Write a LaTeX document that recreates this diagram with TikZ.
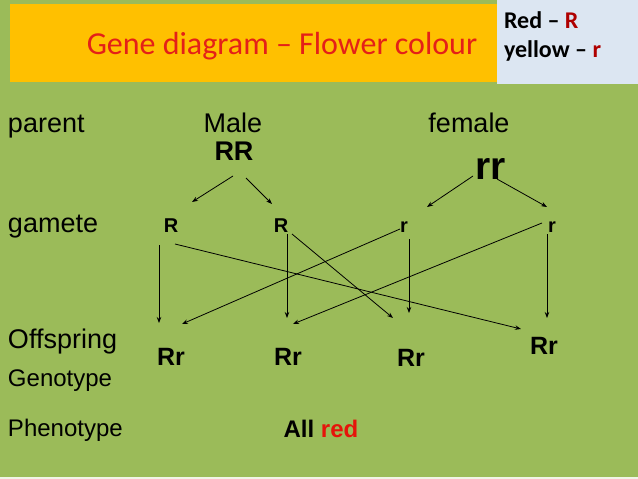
\documentclass[tikz,border=0pt]{standalone}
\usepackage{fontspec}
\setmainfont{Liberation Sans}
\newfontfamily\calfont{Carlito}
\usetikzlibrary{arrows.meta}
\definecolor{bg}{RGB}{155,187,89}
\definecolor{orng}{RGB}{255,192,0}
\definecolor{keybg}{RGB}{220,230,242}
\definecolor{ttl}{RGB}{228,32,24}
\definecolor{dred}{RGB}{175,0,0}
\definecolor{lred}{RGB}{230,20,10}
\begin{document}
\begin{tikzpicture}[x=1pt,y=-1pt,
  every node/.style={inner sep=0pt,outer sep=0pt},
  lbl/.style={anchor=base west,font=\fontsize{27}{27}\selectfont},
  sublbl/.style={anchor=base west,font=\fontsize{24}{24}\selectfont},
  head/.style={anchor=base,font=\fontsize{27}{27}\selectfont},
  gam/.style={anchor=base,font=\fontsize{20}{20}\selectfont\bfseries},
  off/.style={anchor=base,font=\fontsize{25}{25}\selectfont\bfseries},
  keytxt/.style={anchor=base west,font=\calfont\fontsize{24}{24}\selectfont\bfseries},
  arr/.style={-{Stealth[length=6pt,width=4.5pt]},line width=0.8pt,black}
]
\useasboundingbox (0,0) rectangle (638,479);
\fill[bg] (0,0) rectangle (638,479);
\fill[white!85!bg] (0,477) rectangle (638,479);
\fill[orng] (10,4) rectangle (497,82);
\fill[keybg] (497,0) rectangle (638,84);

\node[anchor=base,text=ttl,font=\calfont\fontsize{32}{32}\selectfont] (title) at (282,54) {Gene diagram – Flower colour};
\node[keytxt] (key1) at (504,28) {Red – \textcolor{dred}{R}};
\node[keytxt] (key2) at (504,57) {yellow – \textcolor{dred}{r}};

\node[lbl] (parent) at (8,132) {parent};
\node[head] (male) at (233,132) {Male};
\node[head] (female) at (469,132) {female};
\node[anchor=base,font=\fontsize{27}{27}\selectfont\bfseries] (RR) at (234,160) {RR};
\node[anchor=base,font=\fontsize{39}{39}\selectfont\bfseries] (rr) at (491,179) {rr};

\node[lbl] (gamete) at (8,232) {gamete};
\node[gam] (g1) at (171,232) {R};
\node[gam] (g2) at (281,232) {R};
\node[gam] (g3) at (404,232) {r};
\node[gam] (g4) at (552,232) {r};

\node[lbl] (offspring) at (8,348) {Offspring};
\node[sublbl] (genotype) at (8,386) {Genotype};
\node[sublbl] (phenotype) at (8,436) {Phenotype};
\node[off] (o1) at (171,365) {Rr};
\node[off] (o2) at (288,365) {Rr};
\node[off] (o3) at (411,366) {Rr};
\node[off] (o4) at (544,354) {Rr};
\node[anchor=base,font=\fontsize{24}{24}\selectfont\bfseries] (allred) at (321,437) {All \textcolor{lred}{red}};

% arrow end points
\coordinate (RRa) at (233,176); \coordinate (g1t) at (192,202);
\coordinate (RRb) at (246,178); \coordinate (g2t) at (272,204);
\coordinate (rra) at (473,176); \coordinate (g3t) at (427,207);
\coordinate (rrb) at (497,179); \coordinate (g4t) at (547,207);
\coordinate (g1v) at (159,245); \coordinate (o1v) at (159,323);
\coordinate (g1d) at (175,244); \coordinate (o4d) at (521,329);
\coordinate (g2v) at (287,234); \coordinate (o2v) at (287,318);
\coordinate (g2d) at (292,234); \coordinate (o3d) at (393,318);
\coordinate (g3d) at (400,229); \coordinate (o1d) at (182,324);
\coordinate (g3v) at (409,239); \coordinate (o3v) at (409,313);
\coordinate (g4d) at (542,223); \coordinate (o2d) at (293,324);
\coordinate (g4v) at (547,234); \coordinate (o4v) at (547,318);

\draw[arr] (RRa) -- (g1t);
\draw[arr] (RRb) -- (g2t);
\draw[arr] (rra) -- (g3t);
\draw[arr] (rrb) -- (g4t);
\draw[arr] (g1v) -- (o1v);
\draw[arr] (g1d) -- (o4d);
\draw[arr] (g2v) -- (o2v);
\draw[arr] (g2d) -- (o3d);
\draw[arr] (g3d) -- (o1d);
\draw[arr] (g3v) -- (o3v);
\draw[arr] (g4d) -- (o2d);
\draw[arr] (g4v) -- (o4v);
\end{tikzpicture}
\end{document}
